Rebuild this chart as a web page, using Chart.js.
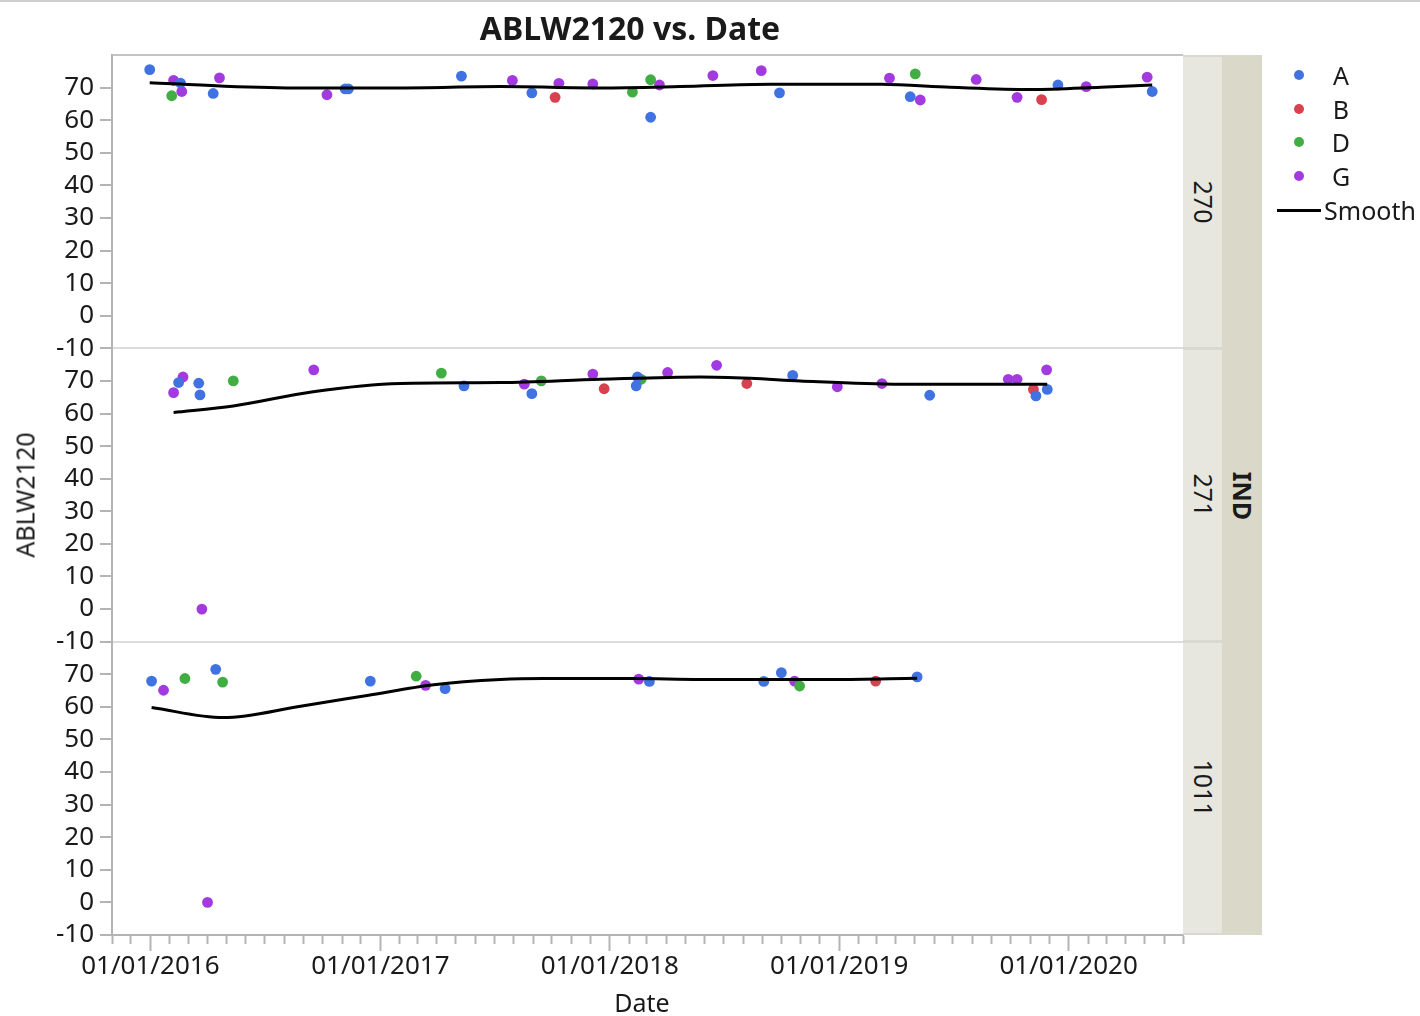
<!DOCTYPE html>
<html>
<head>
<meta charset="utf-8">
<script src="https://cdn.jsdelivr.net/npm/chart.js@4.4.1/dist/chart.umd.min.js"></script>
<style>
html,body{margin:0;padding:0;background:#fff;}
#wrap{position:relative;width:1420px;height:1016px;overflow:hidden;font-family:"Noto Sans","Open Sans",sans-serif;color:#1a1a1a;}
#c{position:absolute;left:0;top:0;}
.t{position:absolute;white-space:nowrap;line-height:1;}
.box{position:absolute;}
</style>
</head>
<body>
<div id="wrap">
<canvas id="c" width="1420" height="1016"></canvas>
</div>
<script>
// ---------------- DATA ----------------
const panels = ['270', '271', '1011'];
const groups = ['A', 'B', 'D', 'G'];
const groupColors = ['#4072e2', '#d8424f', '#41ad43', '#a23ae0'];

const d270Date = ['2015-12-31','2016-02-07','2016-02-18','2016-02-04','2016-02-20','2016-04-10','2016-04-20','2016-10-08','2016-11-06','2016-11-11','2017-05-10','2017-07-30','2017-08-30','2017-10-06','2017-10-12','2017-12-05','2018-02-06','2018-03-07','2018-03-21','2018-03-07','2018-06-14','2018-08-30','2018-09-28','2019-03-22','2019-05-02','2019-04-24','2019-05-10','2019-08-07','2019-10-11','2019-11-19','2019-12-15','2020-01-29','2020-05-05','2020-05-13'];
const d270Grp  = ['A','G','A','D','G','A','G','G','A','A','A','G','A','B','G','G','D','D','G','A','G','G','A','G','D','A','G','G','G','B','A','G','G','A'];
const d270Val  = [75.5,72.2,71.4,67.5,68.8,68.2,73,67.8,69.6,69.6,73.5,72.2,68.4,67,71.3,71.1,68.6,72.4,70.8,60.9,73.7,75.2,68.4,72.9,74.2,67.2,66.2,72.5,67,66.3,70.8,70.3,73.2,68.8];

const d271Date = ['2016-02-07','2016-02-15','2016-02-22','2016-03-18','2016-03-20','2016-03-23','2016-05-12','2016-09-17','2017-04-08','2017-05-14','2017-08-18','2017-08-30','2017-09-14','2017-12-05','2017-12-23','2018-02-12','2018-02-14','2018-02-20','2018-04-03','2018-06-20','2018-08-07','2018-10-19','2018-12-29','2019-03-10','2019-05-25','2019-09-27','2019-10-11','2019-11-06','2019-11-10','2019-11-28','2019-11-27'];
const d271Grp  = ['G','A','G','A','A','G','D','G','D','A','G','A','D','G','B','A','A','D','G','G','B','A','G','G','A','G','G','B','A','A','G'];
const d271Val  = [66.4,69.5,71.2,69.3,65.7,0,70,73.4,72.4,68.5,69,66.1,70,72.1,67.6,68.5,71.2,70.5,72.6,74.8,69.2,71.7,68.2,69.2,65.6,70.5,70.5,67.4,65.4,67.4,73.4];

const d1011Date = ['2016-01-03','2016-01-22','2016-02-25','2016-04-14','2016-04-25','2016-04-01','2016-12-16','2017-02-27','2017-03-14','2017-04-14','2018-02-16','2018-03-05','2018-09-03','2018-10-01','2018-10-22','2018-10-30','2019-02-28','2019-05-05'];
const d1011Grp  = ['A','G','D','A','D','G','A','D','G','A','G','A','A','A','G','D','B','A'];
const d1011Val  = [67.9,65.1,68.7,71.5,67.6,0,67.9,69.4,66.6,65.6,68.5,67.8,67.8,70.5,67.9,66.4,67.9,69.2];

const s270Date = ['2015-12-31','2016-04-21','2016-08-27','2017-02-02','2017-07-11','2017-12-17','2018-04-23','2018-09-14','2019-03-08','2019-06-27','2019-11-01','2020-02-21','2020-05-13'];
const s270Val  = [71.5,70.5,69.9,69.9,70.3,69.9,70.3,71.0,71.0,70.1,69.4,70.1,70.8];
const s271Date = ['2016-02-07','2016-05-12','2016-09-16','2017-02-02','2017-07-11','2017-12-17','2018-05-25','2018-08-13','2018-10-31','2019-04-08','2019-09-14','2019-11-28'];
const s271Val  = [60.3,62.3,66.7,69.2,69.5,70.5,71.2,70.8,70.0,69.0,69.0,69.0];
const s1011Date = ['2016-01-03','2016-04-26','2016-08-27','2016-12-11','2017-03-27','2017-07-11','2017-09-17','2018-02-08','2018-05-25','2018-12-23','2019-05-05'];
const s1011Val  = [59.8,56.7,60.2,63.5,66.8,68.4,68.7,68.7,68.4,68.4,68.8];

const yTicks = [-10, 0, 10, 20, 30, 40, 50, 60, 70];
const xStart = '2015-11-01', xEnd = '2020-07-01';
const titleText = 'ABLW2120 vs. Date';
const yTitle = 'ABLW2120';
const xTitle = 'Date';
const stripTitle = 'IND';
const smoothLabel = 'Smooth';

// ---------------- HELPERS ----------------
const FONT = '"Noto Sans","Open Sans",sans-serif';
const BASE = Date.UTC(2016, 0, 1);
function dayNum(s){ const p = s.split('-').map(Number); return Math.round((Date.UTC(p[0], p[1]-1, p[2]) - BASE) / 864e5); }
function fromDay(n){ return new Date(BASE + n * 864e5); }
const monthDays = [];
(function(){
  let d = new Date(Date.UTC(2015, 10, 1));
  const end = dayNum(xEnd);
  while (true){
    const n = Math.round((d.getTime() - BASE) / 864e5);
    if (n > end) break;
    monthDays.push(n);
    d = new Date(Date.UTC(d.getUTCFullYear(), d.getUTCMonth() + 1, 1));
  }
})();
function isJan(v){ const d = fromDay(v); return d.getUTCMonth() === 0 && d.getUTCDate() === 1; }

const panelData = {
  '270':  {date: d270Date,  grp: d270Grp,  val: d270Val,  sDate: s270Date,  sVal: s270Val},
  '271':  {date: d271Date,  grp: d271Grp,  val: d271Val,  sDate: s271Date,  sVal: s271Val},
  '1011': {date: d1011Date, grp: d1011Grp, val: d1011Val, sDate: s1011Date, sVal: s1011Val}
};

const datasets = [];
panels.forEach(p => {
  const pd = panelData[p];
  datasets.push({
    label: 'Smooth ' + p, yAxisID: 'y' + p, showLine: true,
    data: pd.sDate.map((d, i) => ({x: dayNum(d), y: pd.sVal[i]})),
    borderColor: '#000', borderWidth: 3, pointRadius: 0, fill: false,
    cubicInterpolationMode: 'monotone', order: 0
  });
  groups.forEach((g, gi) => {
    const pts = [];
    pd.date.forEach((d, i) => { if (pd.grp[i] === g) pts.push({x: dayNum(d), y: pd.val[i]}); });
    if (pts.length) datasets.push({
      label: g + ' ' + p, yAxisID: 'y' + p, data: pts,
      backgroundColor: groupColors[gi], borderWidth: 0, pointRadius: 5.4, pointHoverRadius: 5.4, order: 1
    });
  });
});

const AXIS = '#b4b4b4';
function yAxis(p, weight, topColor){
  return {
    type: 'linear', position: 'left', stack: 'panels', stackWeight: 1, weight: weight,
    min: -10, max: 80,
    afterBuildTicks(s){ s.ticks = yTicks.concat([80]).map(v => ({value: v})); },
    afterFit(s){ s.width = 62; },
    ticks: { autoSkip: false, color: '#1a1a1a', font: {family: FONT, size: 26}, padding: 6,
      callback: v => (v === 80 ? '' : String(v)) },
    grid: { drawOnChartArea: true, lineWidth: 2,
      color: c => (c.tick && c.tick.value === 80 ? topColor : 'rgba(0,0,0,0)'),
      tickLength: 12, tickWidth: 2,
      tickColor: c => (c.tick && c.tick.value === 80 ? 'rgba(0,0,0,0)' : AXIS) },
    border: { color: AXIS, width: 2 }
  };
}

const chart = new Chart(document.getElementById('c'), {
  type: 'scatter',
  data: { datasets: datasets },
  options: {
    responsive: false, animation: false, events: [],
    layout: { autoPadding: false, padding: {left: 50, right: 237, top: 55, bottom: 35} },
    plugins: { legend: {display: false}, tooltip: {enabled: false}, title: {display: false} },
    scales: {
      x: {
        type: 'linear', position: 'bottom', min: dayNum(xStart), max: dayNum(xEnd),
        afterBuildTicks(s){ s.ticks = monthDays.map(v => ({value: v})); },
        afterFit(s){ s.height = 46; },
        ticks: { autoSkip: false, maxRotation: 0, minRotation: 0, padding: 0, color: '#1a1a1a',
          font: {family: FONT, size: 26},
          callback: v => { if (!isJan(v)) return ''; const d = fromDay(v); return '01/01/' + d.getUTCFullYear(); } },
        grid: { drawOnChartArea: false, tickLength: 16, tickWidth: 2, tickColor: AXIS,
          tickBorderDash: c => (c.tick && isJan(c.tick.value) ? [] : [8, 40]) },
        border: { color: AXIS, width: 2 }
      },
      y270: yAxis('270', 3, '#c4c4c4'),
      y271: yAxis('271', 2, '#dcdcdc'),
      y1011: yAxis('1011', 1, '#dcdcdc')
    }
  }
});

// ---------------- OVERLAYS (text & strips) ----------------
const wrap = document.getElementById('wrap');
function addText(txt, cx, cy, size, opts){
  opts = opts || {};
  const el = document.createElement('div');
  el.className = 't';
  el.textContent = txt;
  el.style.fontSize = size + 'px';
  if (opts.bold) el.style.fontWeight = 'bold';
  el.style.left = cx + 'px'; el.style.top = cy + 'px';
  el.style.transform = 'translate(-50%,-50%)' + (opts.rot ? ' rotate(' + opts.rot + 'deg)' : '');
  wrap.appendChild(el);
  return el;
}
function addBox(l, t, w, h, bg){
  const el = document.createElement('div');
  el.className = 'box';
  Object.assign(el.style, {left: l + 'px', top: t + 'px', width: w + 'px', height: h + 'px', background: bg});
  wrap.appendChild(el);
  return el;
}
// top page rule
addBox(0, 0, 1420, 2, '#cfcfcf');

const ca = chart.chartArea;
addText(titleText, 630, 28, 32, {bold: true});
addText(xTitle, 642, 1002, 25);
addText(yTitle, 25, (ca.top + ca.bottom) / 2, 25, {rot: -90});

// strip columns
addBox(ca.right, ca.top, 39, ca.bottom - ca.top, '#d9d9d3');
addBox(ca.right + 39, ca.top, 40, ca.bottom - ca.top, '#dad8c8');
panels.forEach(p => {
  const sc = chart.scales['y' + p];
  addBox(ca.right, sc.top + 1.5, 39, sc.bottom - sc.top - 3, '#e7e7df');
  addText(p, ca.right + 19.5, (sc.top + sc.bottom) / 2, 25, {rot: 90});
});
addText(stripTitle, ca.right + 59, (ca.top + ca.bottom) / 2 + 1, 25, {bold: true, rot: 90});

// legend
groups.forEach((g, i) => {
  const cy = 75 + i * 33.7;
  const dot = addBox(1294, cy - 5, 10, 10, groupColors[i]);
  dot.style.borderRadius = '50%';
  addText(g, 1341, cy, 25);
});
addBox(1277, 209, 44, 3, '#000');
addText(smoothLabel, 1370, 210, 25);
</script>
</body>
</html>
